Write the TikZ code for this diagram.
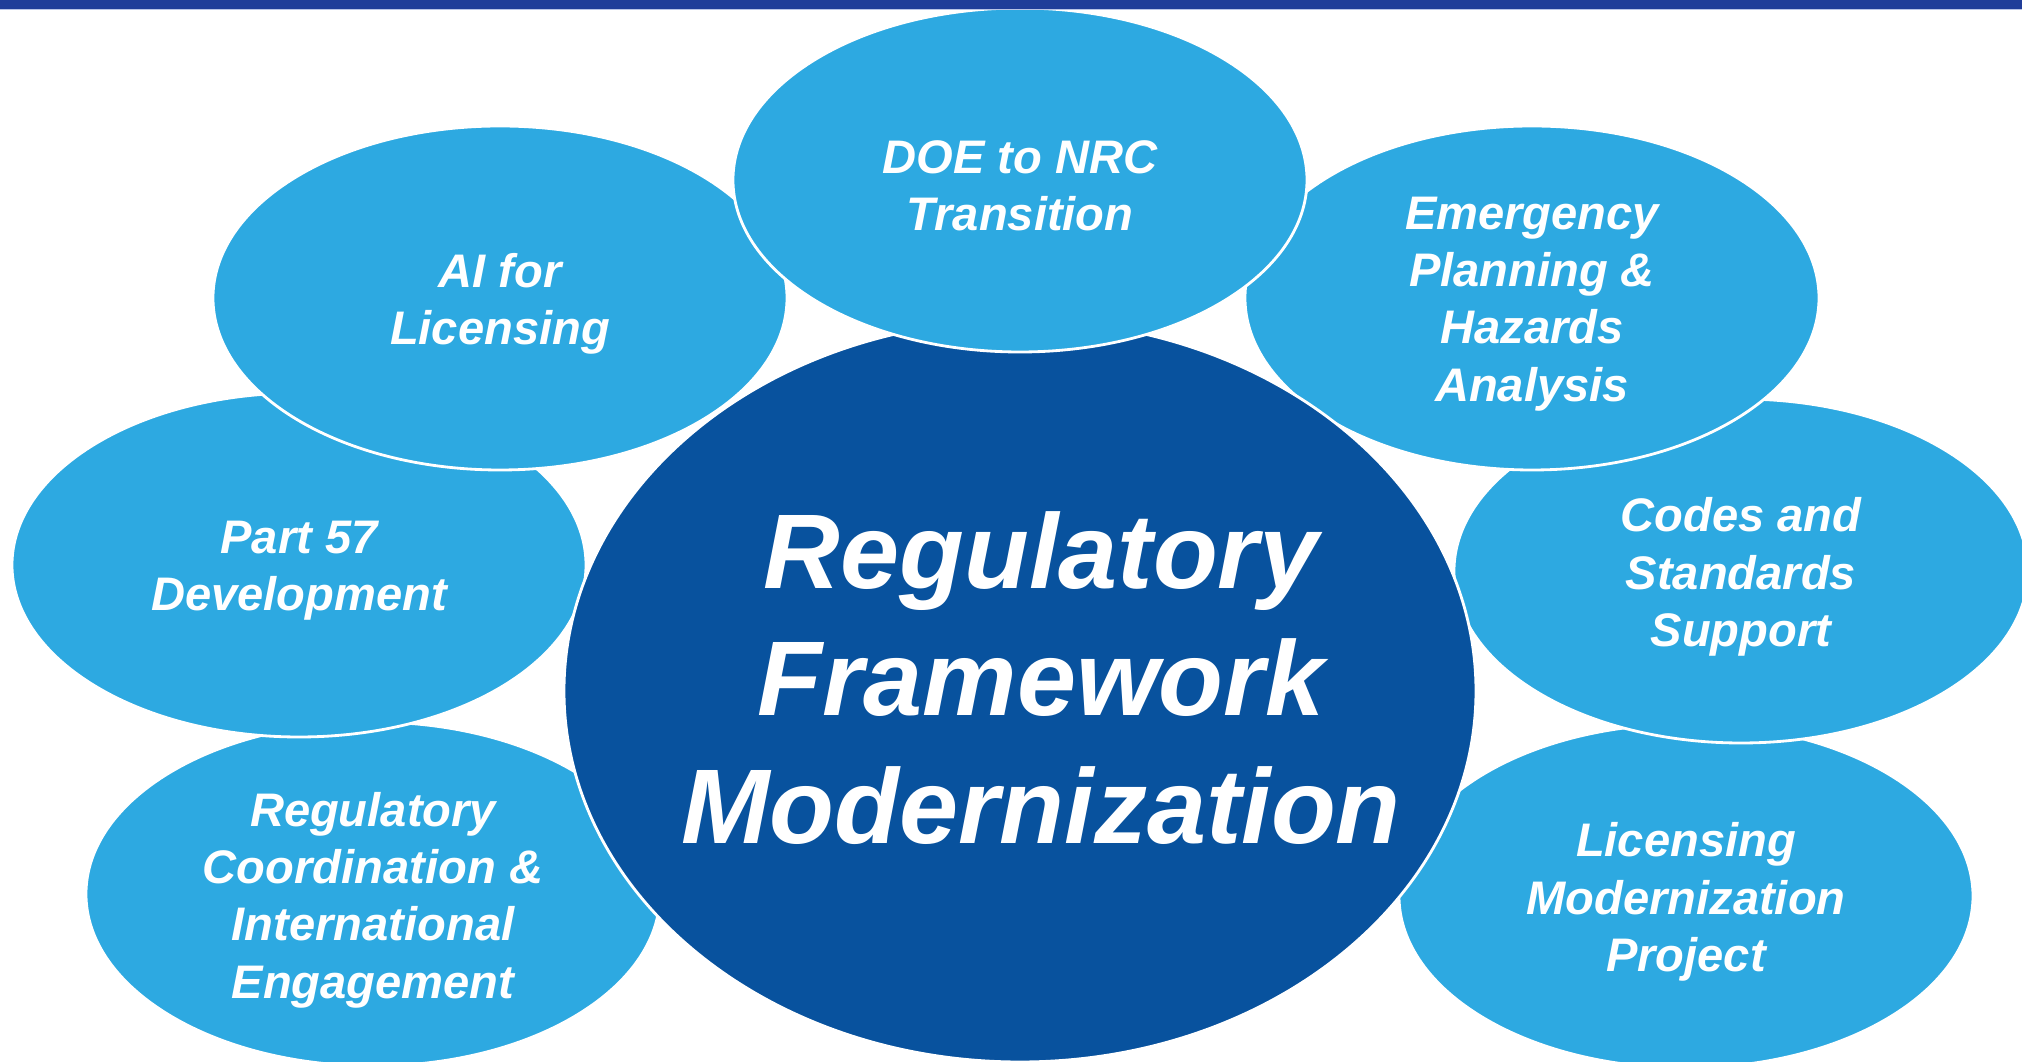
\documentclass[tikz,border=0pt]{standalone}
\usepackage{fontspec}
\setmainfont{Liberation Sans}
\usetikzlibrary{shapes.geometric}
\definecolor{satblue}{HTML}{2DA9E1}
\definecolor{coreblue}{HTML}{08529E}
\definecolor{barblue}{HTML}{203D99}
\definecolor{barline}{HTML}{B9C3E6}

\begin{document}
\begin{tikzpicture}[
  sat/.style={ellipse,fill=satblue,draw=white,line width=0.8pt,minimum width=5.74cm,minimum height=3.44cm,inner sep=0pt},
  core/.style={ellipse,fill=coreblue,draw=white,line width=0.8pt,minimum width=9.12cm,minimum height=7.42cm,inner sep=0pt},
  sattext/.style={text=white,align=center,yshift=-0.6mm,font=\fontsize{13.4}{16.3}\selectfont\bfseries\itshape},
  coretext/.style={text=white,align=center,font=\fontsize{30.2}{36.3}\selectfont\bfseries\itshape}]
  \useasboundingbox (0,0) rectangle (20.22,10.62);
  \clip (0,0) rectangle (20.22,10.62);
  \fill[white] (0,0) rectangle (20.22,10.62);
  % bottom row (lowest layer)
  \node[sat] (coord) at (3.73,1.68){};
  \node[sat] (lmp) at (16.86,1.66){};
  % middle row
  \node[sat] (part) at (2.99,4.97){};
  \node[sat] (codes) at (17.41,4.91){};
  % upper row
  \node[sat] (ai) at (5.00,7.64){};
  \node[sat] (emerg) at (15.32,7.64){};
  % central ellipse
  \node[core] (rfm) at (10.20,3.71){};
  % top ellipse, drawn last
  \node[sat] (doe) at (10.20,8.82){};
  % labels
  \node[sattext] (doe-t) at (doe){DOE to NRC\\Transition};
  \node[sattext] (ai-t) at (ai){AI for\\Licensing};
  \node[sattext] (emerg-t) at (emerg){Emergency\\Planning \&\\Hazards\\Analysis};
  \node[sattext] (part-t) at (part){Part 57\\Development};
  \node[sattext] (codes-t) at (codes){Codes and\\Standards\\Support};
  \node[sattext] (coord-t) at (coord){Regulatory\\Coordination \&\\International\\Engagement};
  \node[sattext] (lmp-t) at (lmp){Licensing\\Modernization\\Project};
  \node[coretext,xshift=2.1mm,yshift=1.3mm] (rfm-t) at (rfm){Regulatory\\Framework\\Modernization};
  % top bar
  \fill[barblue] (0,10.53) rectangle (20.22,10.62);
  \fill[barline] (0,10.515) rectangle (20.22,10.53);
\end{tikzpicture}
\end{document}
